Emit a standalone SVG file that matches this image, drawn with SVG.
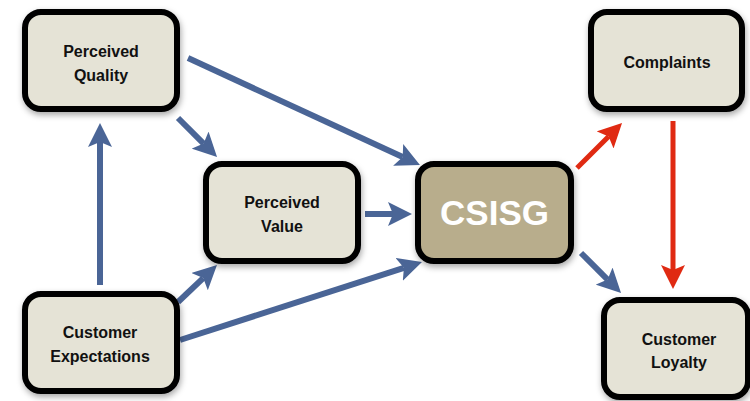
<svg xmlns="http://www.w3.org/2000/svg" width="750" height="401" viewBox="0 0 750 401">
<style>
.box{fill:#e5e3d6;stroke:#000;stroke-width:6;filter:url(#sh)}
.core{fill:#b8ad8c;stroke:#000;stroke-width:6;filter:url(#sh)}
.lbl{font-family:"Liberation Sans",Arial,sans-serif;font-weight:bold;font-size:16px;fill:#111;text-anchor:middle}
.big{font-family:"Liberation Sans",Arial,sans-serif;font-weight:bold;font-size:35px;fill:#fff;text-anchor:middle}
.b{stroke:#4a6596;stroke-width:6;fill:none;marker-end:url(#ab)}
.r{stroke:#e02a12;stroke-width:5;fill:none;marker-end:url(#ar)}
</style>
<defs>
<filter id="sh" x="-20%" y="-20%" width="140%" height="150%">
<feDropShadow dx="1" dy="3" stdDeviation="3" flood-color="#000" flood-opacity="0.35"/>
</filter>
<marker id="ab" viewBox="0 0 24 24" markerWidth="24" markerHeight="24" markerUnits="userSpaceOnUse" refX="5" refY="12" orient="auto">
<path d="M0,0 L24,12 L0,24 L5,12 z" fill="#4a6596"/>
</marker>
<marker id="ar" viewBox="0 0 24 24" markerWidth="24" markerHeight="24" markerUnits="userSpaceOnUse" refX="5" refY="12" orient="auto">
<path d="M0,0 L24,12 L0,24 L5,12 z" fill="#e02a12"/>
</marker>
</defs>
<g id="connectors">
<line class="b" x1="188" y1="58" x2="402.7" y2="157"/>
<line class="b" x1="178" y1="118" x2="203.6" y2="143.6"/>
<line class="b" x1="100" y1="285" x2="100" y2="142"/>
<line class="b" x1="178" y1="302" x2="203.2" y2="278.1"/>
<line class="b" x1="180" y1="340" x2="403.9" y2="267.8"/>
<line class="b" x1="365" y1="214" x2="393" y2="214"/>
<line class="r" x1="577" y1="168" x2="608.6" y2="136.4"/>
<line class="r" x1="673" y1="121" x2="673" y2="270"/>
<line class="b" x1="581" y1="253" x2="607.6" y2="279.6"/>
</g>
<g id="perceived-quality">
<rect class="box" x="25" y="12" width="152" height="97" rx="16"/>
<text class="lbl" x="101" y="57">Perceived</text>
<text class="lbl" x="101" y="81">Quality</text>
</g>
<g id="perceived-value">
<rect class="box" x="206" y="164" width="152" height="97" rx="16"/>
<text class="lbl" x="282" y="208">Perceived</text>
<text class="lbl" x="282" y="232">Value</text>
</g>
<g id="csisg">
<rect class="core" x="418" y="164" width="153" height="97" rx="16"/>
<text class="big" x="494.5" y="225">CSISG</text>
</g>
<g id="complaints">
<rect class="box" x="591" y="12" width="151" height="97" rx="16"/>
<text class="lbl" x="667" y="68">Complaints</text>
</g>
<g id="customer-expectations">
<rect class="box" x="25" y="294" width="152" height="97" rx="16"/>
<text class="lbl" x="100" y="338">Customer</text>
<text class="lbl" x="100" y="362">Expectations</text>
</g>
<g id="customer-loyalty">
<rect class="box" x="604" y="300" width="144" height="97" rx="16"/>
<text class="lbl" x="679" y="345">Customer</text>
<text class="lbl" x="679" y="368">Loyalty</text>
</g>
</svg>
